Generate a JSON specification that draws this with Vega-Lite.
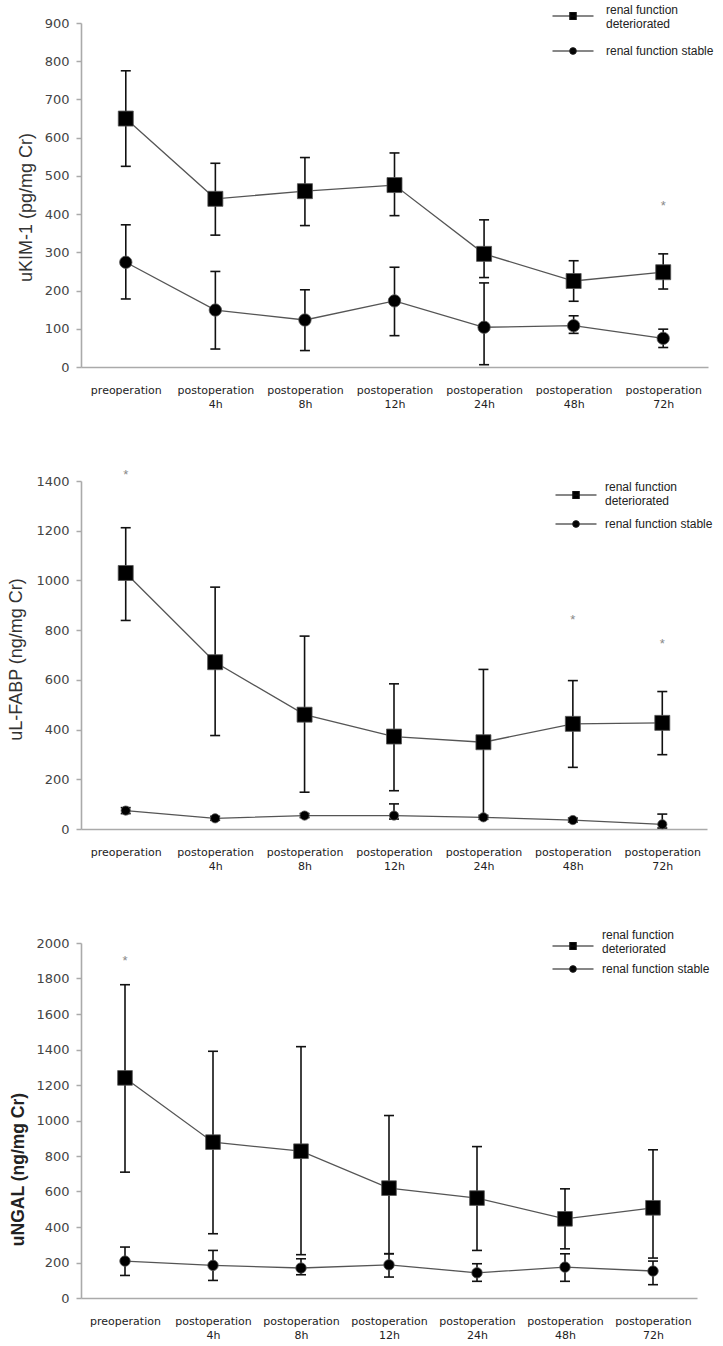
{
  "$schema": "https://vega.github.io/schema/vega-lite/v6.json",
  "background": "white",
  "padding": {"left": 7, "top": 2, "right": 5, "bottom": 5},
  "spacing": 56,
  "resolve": {"scale": {"color": "independent", "fill": "independent"}, "legend": {"color": "independent", "fill": "independent"}},
  "datasets": {
    "kim": [
      {"time": "preoperation", "group": "renal function deteriorated", "mean": 650, "lo": 525, "hi": 775},
      {"time": "postoperation 4h", "group": "renal function deteriorated", "mean": 440, "lo": 345, "hi": 533},
      {"time": "postoperation 8h", "group": "renal function deteriorated", "mean": 460, "lo": 370, "hi": 548},
      {"time": "postoperation 12h", "group": "renal function deteriorated", "mean": 476, "lo": 396, "hi": 560},
      {"time": "postoperation 24h", "group": "renal function deteriorated", "mean": 296, "lo": 234, "hi": 385},
      {"time": "postoperation 48h", "group": "renal function deteriorated", "mean": 225, "lo": 172, "hi": 278},
      {"time": "postoperation 72h", "group": "renal function deteriorated", "mean": 248, "lo": 204, "hi": 296},
      {"time": "preoperation", "group": "renal function stable", "mean": 274, "lo": 178, "hi": 372},
      {"time": "postoperation 4h", "group": "renal function stable", "mean": 149, "lo": 47, "hi": 250},
      {"time": "postoperation 8h", "group": "renal function stable", "mean": 123, "lo": 43, "hi": 202},
      {"time": "postoperation 12h", "group": "renal function stable", "mean": 173, "lo": 82, "hi": 261},
      {"time": "postoperation 24h", "group": "renal function stable", "mean": 104, "lo": 6, "hi": 220},
      {"time": "postoperation 48h", "group": "renal function stable", "mean": 108, "lo": 88, "hi": 134},
      {"time": "postoperation 72h", "group": "renal function stable", "mean": 75, "lo": 51, "hi": 99}
    ],
    "kimstar": [
      {"time": "postoperation 72h", "star": 422}
    ],
    "fabp": [
      {"time": "preoperation", "group": "renal function deteriorated", "mean": 1030, "lo": 839, "hi": 1212},
      {"time": "postoperation 4h", "group": "renal function deteriorated", "mean": 671, "lo": 376, "hi": 973},
      {"time": "postoperation 8h", "group": "renal function deteriorated", "mean": 460, "lo": 148, "hi": 776},
      {"time": "postoperation 12h", "group": "renal function deteriorated", "mean": 372, "lo": 154, "hi": 584},
      {"time": "postoperation 24h", "group": "renal function deteriorated", "mean": 349, "lo": 48, "hi": 642},
      {"time": "postoperation 48h", "group": "renal function deteriorated", "mean": 423, "lo": 248, "hi": 597},
      {"time": "postoperation 72h", "group": "renal function deteriorated", "mean": 427, "lo": 299, "hi": 553},
      {"time": "preoperation", "group": "renal function stable", "mean": 74, "lo": 62, "hi": 86},
      {"time": "postoperation 4h", "group": "renal function stable", "mean": 43, "lo": 35, "hi": 51},
      {"time": "postoperation 8h", "group": "renal function stable", "mean": 54, "lo": 46, "hi": 62},
      {"time": "postoperation 12h", "group": "renal function stable", "mean": 54, "lo": 40, "hi": 101},
      {"time": "postoperation 24h", "group": "renal function stable", "mean": 47, "lo": 39, "hi": 55},
      {"time": "postoperation 48h", "group": "renal function stable", "mean": 36, "lo": 28, "hi": 44},
      {"time": "postoperation 72h", "group": "renal function stable", "mean": 19, "lo": 4, "hi": 60}
    ],
    "fabpstar": [
      {"time": "preoperation", "star": 1426},
      {"time": "postoperation 48h", "star": 839},
      {"time": "postoperation 72h", "star": 745}
    ],
    "ngal": [
      {"time": "preoperation", "group": "renal function deteriorated", "mean": 1240, "lo": 709, "hi": 1765},
      {"time": "postoperation 4h", "group": "renal function deteriorated", "mean": 878, "lo": 362, "hi": 1390},
      {"time": "postoperation 8h", "group": "renal function deteriorated", "mean": 827, "lo": 244, "hi": 1416},
      {"time": "postoperation 12h", "group": "renal function deteriorated", "mean": 619, "lo": 249, "hi": 1028},
      {"time": "postoperation 24h", "group": "renal function deteriorated", "mean": 563, "lo": 268, "hi": 853},
      {"time": "postoperation 48h", "group": "renal function deteriorated", "mean": 446, "lo": 277, "hi": 615},
      {"time": "postoperation 72h", "group": "renal function deteriorated", "mean": 508, "lo": 225, "hi": 835},
      {"time": "preoperation", "group": "renal function stable", "mean": 208, "lo": 127, "hi": 287},
      {"time": "postoperation 4h", "group": "renal function stable", "mean": 184, "lo": 99, "hi": 268},
      {"time": "postoperation 8h", "group": "renal function stable", "mean": 169, "lo": 131, "hi": 221},
      {"time": "postoperation 12h", "group": "renal function stable", "mean": 187, "lo": 118, "hi": 250},
      {"time": "postoperation 24h", "group": "renal function stable", "mean": 142, "lo": 94, "hi": 193},
      {"time": "postoperation 48h", "group": "renal function stable", "mean": 174, "lo": 94, "hi": 249},
      {"time": "postoperation 72h", "group": "renal function stable", "mean": 152, "lo": 75, "hi": 208}
    ],
    "ngalstar": [
      {"time": "preoperation", "star": 1900}
    ]
  },
  "vconcat": [
    {
      "spacing": 59,
      "resolve": {"scale": {"color": "independent", "fill": "independent"}, "legend": {"color": "independent", "fill": "independent"}},
      "vconcat": [
        {
          "width": 627,
          "height": 344,
          "data": {"name": "kim"},
          "encoding": {
            "x": {
              "field": "time", "type": "nominal", "sort": null,
              "scale": {"type": "point", "padding": 0.5},
              "axis": {"title": null, "labelAngle": 0, "ticks": false, "labelPadding": 17, "labelFontSize": 11, "labelColor": "#222", "labelLineHeight": 14,
                "labelExpr": "datum.label == 'preoperation' ? 'preoperation' : ['postoperation', replace(datum.label, 'postoperation ', '')]"}
            }
          },
          "layer": [
            {
              "mark": {"type": "line", "color": "#555", "strokeWidth": 1.3},
              "encoding": {
                "y": {"field": "mean", "type": "quantitative", "scale": {"domain": [0, 900], "nice": false},
                  "axis": {"title": "uKIM-1 (pg/mg Cr)", "values": [0, 100, 200, 300, 400, 500, 600, 700, 800, 900], "labelOverlap": false, "format": "d", "titleX": -55, "titleY": 184, "titleAlign": "center", "titleBaseline": "middle", "titleFontSize": 18, "titleFontWeight": "normal", "titleColor": "#333"}},
                "detail": {"field": "group"}
              }
            },
            {
              "mark": {"type": "rule", "color": "#111", "strokeWidth": 1.6},
              "encoding": {
                "y": {"field": "lo", "type": "quantitative", "scale": {"domain": [0, 900], "nice": false},
                  "axis": {"title": "uKIM-1 (pg/mg Cr)", "values": [0, 100, 200, 300, 400, 500, 600, 700, 800, 900], "labelOverlap": false, "format": "d", "titleX": -55, "titleY": 184, "titleAlign": "center", "titleBaseline": "middle", "titleFontSize": 18, "titleFontWeight": "normal", "titleColor": "#333"}},
                "y2": {"field": "hi"}
              }
            },
            {
              "mark": {"type": "tick", "color": "#111", "thickness": 1.6, "size": 10, "opacity": 1},
              "encoding": {"y": {"field": "lo", "type": "quantitative", "scale": {"domain": [0, 900], "nice": false},
                  "axis": {"title": "uKIM-1 (pg/mg Cr)", "values": [0, 100, 200, 300, 400, 500, 600, 700, 800, 900], "labelOverlap": false, "format": "d", "titleX": -55, "titleY": 184, "titleAlign": "center", "titleBaseline": "middle", "titleFontSize": 18, "titleFontWeight": "normal", "titleColor": "#333"}}}
            },
            {
              "mark": {"type": "tick", "color": "#111", "thickness": 1.6, "size": 10, "opacity": 1},
              "encoding": {"y": {"field": "hi", "type": "quantitative", "scale": {"domain": [0, 900], "nice": false},
                  "axis": {"title": "uKIM-1 (pg/mg Cr)", "values": [0, 100, 200, 300, 400, 500, 600, 700, 800, 900], "labelOverlap": false, "format": "d", "titleX": -55, "titleY": 184, "titleAlign": "center", "titleBaseline": "middle", "titleFontSize": 18, "titleFontWeight": "normal", "titleColor": "#333"}}}
            },
            {
              "transform": [{"filter": "datum.group == 'renal function deteriorated'"}],
              "mark": {"type": "point", "shape": "square", "filled": true, "opacity": 1, "stroke": "#555", "strokeWidth": 0.8, "size": 225},
              "encoding": {
                "y": {"field": "mean", "type": "quantitative", "scale": {"domain": [0, 900], "nice": false},
                  "axis": {"title": "uKIM-1 (pg/mg Cr)", "values": [0, 100, 200, 300, 400, 500, 600, 700, 800, 900], "labelOverlap": false, "format": "d", "titleX": -55, "titleY": 184, "titleAlign": "center", "titleBaseline": "middle", "titleFontSize": 18, "titleFontWeight": "normal", "titleColor": "#333"}},
                "color": {"field": "group", "type": "nominal",
                  "scale": {"domain": ["renal function deteriorated"], "range": ["#000000"]},
                  "legend": {"orient": "none", "legendX": 484, "legendY": -21, "title": null, "padding": 0, "labelFont": "Liberation Sans", "labelFontSize": 12, "labelColor": "#222", "labelOffset": 25, "labelLimit": 200,
                    "symbolType": "M-2.93,0.86H2.93M-0.45,0.36H0.45V1.36H-0.45Z", "symbolSize": 196, "symbolFillColor": "#111", "symbolStrokeColor": "#111", "symbolStrokeWidth": 1.2, "symbolOpacity": 1,
                    "labelExpr": "['renal function', 'deteriorated']"}
                }
              }
            },
            {
              "transform": [{"filter": "datum.group == 'renal function stable'"}],
              "mark": {"type": "point", "shape": "circle", "filled": true, "opacity": 1, "stroke": "#555", "strokeWidth": 0.8, "size": 154},
              "encoding": {
                "y": {"field": "mean", "type": "quantitative", "scale": {"domain": [0, 900], "nice": false},
                  "axis": {"title": "uKIM-1 (pg/mg Cr)", "values": [0, 100, 200, 300, 400, 500, 600, 700, 800, 900], "labelOverlap": false, "format": "d", "titleX": -55, "titleY": 184, "titleAlign": "center", "titleBaseline": "middle", "titleFontSize": 18, "titleFontWeight": "normal", "titleColor": "#333"}},
                "fill": {"field": "group", "type": "nominal",
                  "scale": {"domain": ["renal function stable"], "range": ["#000000"]},
                  "legend": {"orient": "none", "legendX": 484, "legendY": 20, "title": null, "padding": 0, "labelFont": "Liberation Sans", "labelFontSize": 12, "labelColor": "#222", "labelOffset": 25, "labelLimit": 200,
                    "symbolType": "M-2.93,0H2.93M-0.45,0A0.45,0.45 0 1,0 0.45,0A0.45,0.45 0 1,0 -0.45,0Z", "symbolSize": 196, "symbolFillColor": "#111", "symbolStrokeColor": "#111", "symbolStrokeWidth": 1.2, "symbolOpacity": 1}
                }
              }
            },
            {
              "data": {"name": "kimstar"},
              "mark": {"type": "text", "text": "*", "fontSize": 13, "color": "#888", "font": "Liberation Sans"},
              "encoding": {"y": {"field": "star", "type": "quantitative", "scale": {"domain": [0, 900], "nice": false},
                  "axis": {"title": "uKIM-1 (pg/mg Cr)", "values": [0, 100, 200, 300, 400, 500, 600, 700, 800, 900], "labelOverlap": false, "format": "d", "titleX": -55, "titleY": 184, "titleAlign": "center", "titleBaseline": "middle", "titleFontSize": 18, "titleFontWeight": "normal", "titleColor": "#333"}}}
            }
          ]
        },
        {
          "width": 626,
          "height": 348,
          "data": {"name": "fabp"},
          "encoding": {
            "x": {
              "field": "time", "type": "nominal", "sort": null,
              "scale": {"type": "point", "padding": 0.5},
              "axis": {"title": null, "labelAngle": 0, "ticks": false, "labelPadding": 17, "labelFontSize": 11, "labelColor": "#222", "labelLineHeight": 14,
                "labelExpr": "datum.label == 'preoperation' ? 'preoperation' : ['postoperation', replace(datum.label, 'postoperation ', '')]"}
            }
          },
          "layer": [
            {
              "mark": {"type": "line", "color": "#555", "strokeWidth": 1.3},
              "encoding": {
                "y": {"field": "mean", "type": "quantitative", "scale": {"domain": [0, 1400], "nice": false},
                  "axis": {"title": "uL-FABP (ng/mg Cr)", "values": [0, 200, 400, 600, 800, 1000, 1200, 1400], "labelOverlap": false, "format": "d", "titleX": -65, "titleY": 178, "titleAlign": "center", "titleBaseline": "middle", "titleFontSize": 18, "titleFontWeight": "normal", "titleColor": "#333"}},
                "detail": {"field": "group"}
              }
            },
            {
              "mark": {"type": "rule", "color": "#111", "strokeWidth": 1.6},
              "encoding": {
                "y": {"field": "lo", "type": "quantitative", "scale": {"domain": [0, 1400], "nice": false},
                  "axis": {"title": "uL-FABP (ng/mg Cr)", "values": [0, 200, 400, 600, 800, 1000, 1200, 1400], "labelOverlap": false, "format": "d", "titleX": -65, "titleY": 178, "titleAlign": "center", "titleBaseline": "middle", "titleFontSize": 18, "titleFontWeight": "normal", "titleColor": "#333"}},
                "y2": {"field": "hi"}
              }
            },
            {
              "mark": {"type": "tick", "color": "#111", "thickness": 1.6, "size": 10, "opacity": 1},
              "encoding": {"y": {"field": "lo", "type": "quantitative", "scale": {"domain": [0, 1400], "nice": false},
                  "axis": {"title": "uL-FABP (ng/mg Cr)", "values": [0, 200, 400, 600, 800, 1000, 1200, 1400], "labelOverlap": false, "format": "d", "titleX": -65, "titleY": 178, "titleAlign": "center", "titleBaseline": "middle", "titleFontSize": 18, "titleFontWeight": "normal", "titleColor": "#333"}}}
            },
            {
              "mark": {"type": "tick", "color": "#111", "thickness": 1.6, "size": 10, "opacity": 1},
              "encoding": {"y": {"field": "hi", "type": "quantitative", "scale": {"domain": [0, 1400], "nice": false},
                  "axis": {"title": "uL-FABP (ng/mg Cr)", "values": [0, 200, 400, 600, 800, 1000, 1200, 1400], "labelOverlap": false, "format": "d", "titleX": -65, "titleY": 178, "titleAlign": "center", "titleBaseline": "middle", "titleFontSize": 18, "titleFontWeight": "normal", "titleColor": "#333"}}}
            },
            {
              "transform": [{"filter": "datum.group == 'renal function deteriorated'"}],
              "mark": {"type": "point", "shape": "square", "filled": true, "opacity": 1, "stroke": "#555", "strokeWidth": 0.8, "size": 225},
              "encoding": {
                "y": {"field": "mean", "type": "quantitative", "scale": {"domain": [0, 1400], "nice": false},
                  "axis": {"title": "uL-FABP (ng/mg Cr)", "values": [0, 200, 400, 600, 800, 1000, 1200, 1400], "labelOverlap": false, "format": "d", "titleX": -65, "titleY": 178, "titleAlign": "center", "titleBaseline": "middle", "titleFontSize": 18, "titleFontWeight": "normal", "titleColor": "#333"}},
                "color": {"field": "group", "type": "nominal",
                  "scale": {"domain": ["renal function deteriorated"], "range": ["#000000"]},
                  "legend": {"orient": "none", "legendX": 487, "legendY": -2, "title": null, "padding": 0, "labelFont": "Liberation Sans", "labelFontSize": 12, "labelColor": "#222", "labelOffset": 21, "labelLimit": 200,
                    "symbolType": "M-2.93,1.14H2.93M-0.45,0.64H0.45V1.64H-0.45Z", "symbolSize": 196, "symbolFillColor": "#111", "symbolStrokeColor": "#111", "symbolStrokeWidth": 1.2, "symbolOpacity": 1,
                    "labelExpr": "['renal function', 'deteriorated']"}
                }
              }
            },
            {
              "transform": [{"filter": "datum.group == 'renal function stable'"}],
              "mark": {"type": "point", "shape": "circle", "filled": true, "opacity": 1, "stroke": "#555", "strokeWidth": 0.8, "size": 85},
              "encoding": {
                "y": {"field": "mean", "type": "quantitative", "scale": {"domain": [0, 1400], "nice": false},
                  "axis": {"title": "uL-FABP (ng/mg Cr)", "values": [0, 200, 400, 600, 800, 1000, 1200, 1400], "labelOverlap": false, "format": "d", "titleX": -65, "titleY": 178, "titleAlign": "center", "titleBaseline": "middle", "titleFontSize": 18, "titleFontWeight": "normal", "titleColor": "#333"}},
                "fill": {"field": "group", "type": "nominal",
                  "scale": {"domain": ["renal function stable"], "range": ["#000000"]},
                  "legend": {"orient": "none", "legendX": 487, "legendY": 35, "title": null, "padding": 0, "labelFont": "Liberation Sans", "labelFontSize": 12, "labelColor": "#222", "labelOffset": 21, "labelLimit": 200,
                    "symbolType": "M-2.93,0H2.93M-0.45,0A0.45,0.45 0 1,0 0.45,0A0.45,0.45 0 1,0 -0.45,0Z", "symbolSize": 196, "symbolFillColor": "#111", "symbolStrokeColor": "#111", "symbolStrokeWidth": 1.2, "symbolOpacity": 1}
                }
              }
            },
            {
              "data": {"name": "fabpstar"},
              "mark": {"type": "text", "text": "*", "fontSize": 13, "color": "#888", "font": "Liberation Sans"},
              "encoding": {"y": {"field": "star", "type": "quantitative", "scale": {"domain": [0, 1400], "nice": false},
                  "axis": {"title": "uL-FABP (ng/mg Cr)", "values": [0, 200, 400, 600, 800, 1000, 1200, 1400], "labelOverlap": false, "format": "d", "titleX": -65, "titleY": 178, "titleAlign": "center", "titleBaseline": "middle", "titleFontSize": 18, "titleFontWeight": "normal", "titleColor": "#333"}}}
            }
          ]
        }
      ]
    },
    {
      "width": 616,
      "height": 355,
      "data": {"name": "ngal"},
      "encoding": {
        "x": {
          "field": "time", "type": "nominal", "sort": null,
          "scale": {"type": "point", "padding": 0.5},
          "axis": {"title": null, "labelAngle": 0, "ticks": false, "labelPadding": 17, "labelFontSize": 11, "labelColor": "#222", "labelLineHeight": 14,
            "labelExpr": "datum.label == 'preoperation' ? 'preoperation' : ['postoperation', replace(datum.label, 'postoperation ', '')]"}
        }
      },
      "layer": [
        {
          "mark": {"type": "line", "color": "#555", "strokeWidth": 1.3},
          "encoding": {
            "y": {"field": "mean", "type": "quantitative", "scale": {"domain": [0, 2000], "nice": false},
              "axis": {"title": "uNGAL (ng/mg Cr)", "values": [0, 200, 400, 600, 800, 1000, 1200, 1400, 1600, 1800, 2000], "labelOverlap": false, "format": "d", "titleX": -63, "titleY": 226, "titleAlign": "center", "titleBaseline": "middle", "titleFontSize": 17.5, "titleFontWeight": "bold", "titleColor": "#222"}},
            "detail": {"field": "group"}
          }
        },
        {
          "mark": {"type": "rule", "color": "#111", "strokeWidth": 1.6},
          "encoding": {
            "y": {"field": "lo", "type": "quantitative", "scale": {"domain": [0, 2000], "nice": false},
              "axis": {"title": "uNGAL (ng/mg Cr)", "values": [0, 200, 400, 600, 800, 1000, 1200, 1400, 1600, 1800, 2000], "labelOverlap": false, "format": "d", "titleX": -63, "titleY": 226, "titleAlign": "center", "titleBaseline": "middle", "titleFontSize": 17.5, "titleFontWeight": "bold", "titleColor": "#222"}},
            "y2": {"field": "hi"}
          }
        },
        {
          "mark": {"type": "tick", "color": "#111", "thickness": 1.6, "size": 10, "opacity": 1},
          "encoding": {"y": {"field": "lo", "type": "quantitative", "scale": {"domain": [0, 2000], "nice": false},
              "axis": {"title": "uNGAL (ng/mg Cr)", "values": [0, 200, 400, 600, 800, 1000, 1200, 1400, 1600, 1800, 2000], "labelOverlap": false, "format": "d", "titleX": -63, "titleY": 226, "titleAlign": "center", "titleBaseline": "middle", "titleFontSize": 17.5, "titleFontWeight": "bold", "titleColor": "#222"}}}
        },
        {
          "mark": {"type": "tick", "color": "#111", "thickness": 1.6, "size": 10, "opacity": 1},
          "encoding": {"y": {"field": "hi", "type": "quantitative", "scale": {"domain": [0, 2000], "nice": false},
              "axis": {"title": "uNGAL (ng/mg Cr)", "values": [0, 200, 400, 600, 800, 1000, 1200, 1400, 1600, 1800, 2000], "labelOverlap": false, "format": "d", "titleX": -63, "titleY": 226, "titleAlign": "center", "titleBaseline": "middle", "titleFontSize": 17.5, "titleFontWeight": "bold", "titleColor": "#222"}}}
        },
        {
          "transform": [{"filter": "datum.group == 'renal function deteriorated'"}],
          "mark": {"type": "point", "shape": "square", "filled": true, "opacity": 1, "stroke": "#555", "strokeWidth": 0.8, "size": 215},
          "encoding": {
            "y": {"field": "mean", "type": "quantitative", "scale": {"domain": [0, 2000], "nice": false},
              "axis": {"title": "uNGAL (ng/mg Cr)", "values": [0, 200, 400, 600, 800, 1000, 1200, 1400, 1600, 1800, 2000], "labelOverlap": false, "format": "d", "titleX": -63, "titleY": 226, "titleAlign": "center", "titleBaseline": "middle", "titleFontSize": 17.5, "titleFontWeight": "bold", "titleColor": "#222"}},
            "color": {"field": "group", "type": "nominal",
              "scale": {"domain": ["renal function deteriorated"], "range": ["#000000"]},
              "legend": {"orient": "none", "legendX": 484, "legendY": -16, "title": null, "padding": 0, "labelFont": "Liberation Sans", "labelFontSize": 12, "labelColor": "#222", "labelOffset": 21, "labelLimit": 200,
                "symbolType": "M-2.93,1.57H2.93M-0.45,1.07H0.45V2.07H-0.45Z", "symbolSize": 196, "symbolFillColor": "#111", "symbolStrokeColor": "#111", "symbolStrokeWidth": 1.2, "symbolOpacity": 1,
                "labelExpr": "['renal function', 'deteriorated']"}
            }
          }
        },
        {
          "transform": [{"filter": "datum.group == 'renal function stable'"}],
          "mark": {"type": "point", "shape": "circle", "filled": true, "opacity": 1, "stroke": "#555", "strokeWidth": 0.8, "size": 110},
          "encoding": {
            "y": {"field": "mean", "type": "quantitative", "scale": {"domain": [0, 2000], "nice": false},
              "axis": {"title": "uNGAL (ng/mg Cr)", "values": [0, 200, 400, 600, 800, 1000, 1200, 1400, 1600, 1800, 2000], "labelOverlap": false, "format": "d", "titleX": -63, "titleY": 226, "titleAlign": "center", "titleBaseline": "middle", "titleFontSize": 17.5, "titleFontWeight": "bold", "titleColor": "#222"}},
            "fill": {"field": "group", "type": "nominal",
              "scale": {"domain": ["renal function stable"], "range": ["#000000"]},
              "legend": {"orient": "none", "legendX": 484, "legendY": 18, "title": null, "padding": 0, "labelFont": "Liberation Sans", "labelFontSize": 12, "labelColor": "#222", "labelOffset": 21, "labelLimit": 200,
                "symbolType": "M-2.93,0H2.93M-0.45,0A0.45,0.45 0 1,0 0.45,0A0.45,0.45 0 1,0 -0.45,0Z", "symbolSize": 196, "symbolFillColor": "#111", "symbolStrokeColor": "#111", "symbolStrokeWidth": 1.2, "symbolOpacity": 1}
            }
          }
        },
        {
          "data": {"name": "ngalstar"},
          "mark": {"type": "text", "text": "*", "fontSize": 13, "color": "#888", "font": "Liberation Sans"},
          "encoding": {"y": {"field": "star", "type": "quantitative", "scale": {"domain": [0, 2000], "nice": false},
              "axis": {"title": "uNGAL (ng/mg Cr)", "values": [0, 200, 400, 600, 800, 1000, 1200, 1400, 1600, 1800, 2000], "labelOverlap": false, "format": "d", "titleX": -63, "titleY": 226, "titleAlign": "center", "titleBaseline": "middle", "titleFontSize": 17.5, "titleFontWeight": "bold", "titleColor": "#222"}}}
        }
      ]
    }
  ],
  "config": {
    "view": {"stroke": null},
    "axis": {"grid": false, "domainColor": "#aaaaaa", "domainWidth": 1.6, "tickColor": "#aaaaaa", "tickWidth": 1.5, "labelFont": "DejaVu Sans", "titleFont": "Liberation Sans"},
    "axisY": {"tickSize": 5, "labelPadding": 7, "labelFontSize": 13, "labelColor": "#444"}
  }
}
